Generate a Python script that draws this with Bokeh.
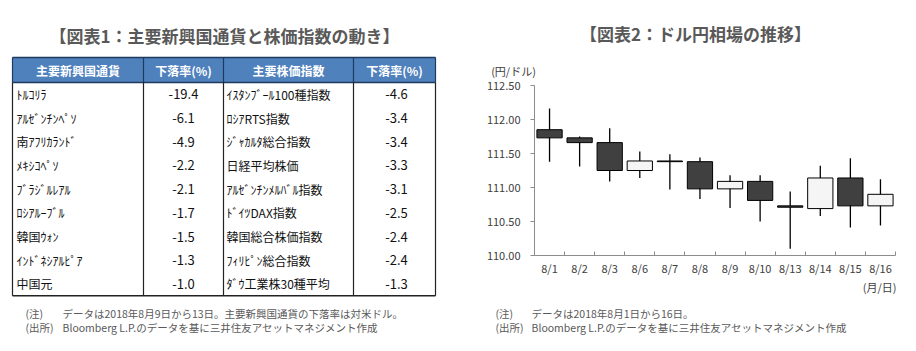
from bokeh.plotting import figure
from bokeh.models import Range1d, ColumnDataSource, FixedTicker, NumeralTickFormatter
from bokeh.layouts import row, column
from bokeh.embed import file_html
from bokeh.resources import INLINE
from bokeh.core.properties import value

FONT = "Noto Sans CJK JP"

# ---------------- data ----------------
title1 = "【図表1：主要新興国通貨と株価指数の動き】"
title2 = "【図表2：ドル円相場の推移】"
headers = ["主要新興国通貨", "下落率(%)", "主要株価指数", "下落率(%)"]
currencies = ["ﾄﾙｺﾘﾗ", "ｱﾙｾﾞﾝﾁﾝﾍﾟｿ", "南ｱﾌﾘｶﾗﾝﾄﾞ", "ﾒｷｼｺﾍﾟｿ", "ﾌﾞﾗｼﾞﾙﾚｱﾙ",
              "ﾛｼｱﾙｰﾌﾞﾙ", "韓国ｳｫﾝ", "ｲﾝﾄﾞﾈｼｱﾙﾋﾟｱ", "中国元"]
currency_chg = [-19.4, -6.1, -4.9, -2.2, -2.1, -1.7, -1.5, -1.3, -1.0]
indices = ["ｲｽﾀﾝﾌﾞｰﾙ100種指数", "ﾛｼｱRTS指数", "ｼﾞｬｶﾙﾀ総合指数", "日経平均株価",
           "ｱﾙｾﾞﾝﾁﾝﾒﾙﾊﾞﾙ指数", "ﾄﾞｲﾂDAX指数", "韓国総合株価指数", "ﾌｨﾘﾋﾟﾝ総合指数",
           "ﾀﾞｳ工業株30種平均"]
index_chg = [-4.6, -3.4, -3.4, -3.3, -3.1, -2.5, -2.4, -2.4, -1.3]
note1_label = ["(注)", "(出所)"]
note1_text = ["データは2018年8月9日から13日。主要新興国通貨の下落率は対米ドル。",
              "Bloomberg L.P.のデータを基に三井住友アセットマネジメント作成"]

dates = ["8/1", "8/2", "8/3", "8/6", "8/7", "8/8", "8/9", "8/10", "8/13", "8/14", "8/15", "8/16"]
opens = [111.85, 111.73, 111.66, 111.25, 111.39, 111.38, 110.98, 111.09, 110.73, 110.69, 111.14, 110.73]
closes = [111.73, 111.66, 111.25, 111.39, 111.38, 110.98, 111.09, 110.81, 110.71, 111.14, 110.73, 110.90]
highs = [112.16, 111.75, 111.87, 111.53, 111.49, 111.44, 111.18, 111.18, 110.94, 111.32, 111.43, 111.12]
lows = [111.38, 111.31, 111.09, 111.14, 110.97, 110.83, 110.70, 110.50, 110.10, 110.58, 110.41, 110.44]
y_ticks = [110.0, 110.5, 111.0, 111.5, 112.0, 112.5]
y_unit = "(円/ドル)"
x_unit = "(月/日)"
note2_label = ["(注)", "(出所)"]
note2_text = ["データは2018年8月1日から16日。",
              "Bloomberg L.P.のデータを基に三井住友アセットマネジメント作成"]


def pixel_fig(w, h):
    """A blank figure whose data space equals its own pixels (y downwards)."""
    f = figure(width=w, height=h, x_range=Range1d(0, w), y_range=Range1d(h, 0),
               output_backend="svg", toolbar_location=None, min_border=0,
               x_axis_type=None, y_axis_type=None, outline_line_color=None, title=None)
    f.grid.visible = False
    f.background_fill_color = "white"
    f.border_fill_color = "white"
    f.frame_align = False
    return f


def txt(f, x, y, t, size, color="#111111", bold=False, align="left"):
    f.text(x=x, y=y, text=t, text_font=value(FONT), text_font_size=size,
           text_font_style="bold" if bold else "normal", text_color=color,
           text_align=align, text_baseline="middle")


# ---------------- left: table ----------------
p1 = pixel_fig(458, 351)

col_edges = [12, 143, 223, 353, 435]
head_top, head_bot, row_h = 57, 82, 23.7
n = len(currencies)
tab_bot = head_bot + n * row_h

txt(p1, [224], [35], [title1], "17px", "#595959", bold=True, align="center")

p1.quad(left=[col_edges[0]], right=[col_edges[-1]], top=[head_top], bottom=[head_bot],
        fill_color="#4F81BD", line_color=None)
p1.segment(x0=[col_edges[0]] * 2, y0=[head_top, head_bot], x1=[col_edges[-1]] * 2,
           y1=[head_top, head_bot], line_color="#1F3A5F", line_width=1.3)
p1.segment(x0=col_edges, y0=[head_top] * 5, x1=col_edges, y1=[head_bot] * 5,
           line_color="#1F3A5F", line_width=1.2)
p1.segment(x0=col_edges, y0=[head_bot] * 5, x1=col_edges, y1=[tab_bot] * 5,
           line_color="#222222", line_width=1.2)
p1.segment(x0=[col_edges[0]], y0=[tab_bot], x1=[col_edges[-1]], y1=[tab_bot],
           line_color="#222222", line_width=1.5)

hx = [(col_edges[i] + col_edges[i + 1]) / 2 for i in range(4)]
txt(p1, hx, [(head_top + head_bot) / 2] * 4, headers, "12px", "white", bold=True, align="center")

ry = [head_bot + (i + 0.5) * row_h for i in range(n)]
txt(p1, [col_edges[0] + 4] * n, ry, currencies, "12px")
txt(p1, [col_edges[2] + 3] * n, ry, indices, "12px")
txt(p1, [hx[1]] * n, ry, [f"{v:.1f}" for v in currency_chg], "13px", align="center")
txt(p1, [hx[3] + 2] * n, ry, [f"{v:.1f}" for v in index_chg], "13px", align="center")

txt(p1, [25, 25], [313, 327], note1_label, "10.5px", "#595959")
txt(p1, [62, 62], [313, 327], note1_text, "10.5px", "#595959")

# ---------------- right: title strip ----------------
TOP_H, CHART_H = 78, 201
pt = pixel_fig(458, TOP_H)
txt(pt, [237], [33], [title2], "17px", "#595959", bold=True, align="center")
txt(pt, [55], [70], [y_unit], "11px", "#404040", align="center")

# ---------------- right: candlestick ----------------
p2 = figure(width=458, height=CHART_H, x_range=Range1d(0.5, len(dates) + 0.5),
            y_range=Range1d(y_ticks[0], y_ticks[-1]),
            output_backend="svg", toolbar_location=None, title=None,
            min_border_left=76, min_border_right=21, min_border_top=7, min_border_bottom=24,
            outline_line_color=None)
p2.grid.visible = False
p2.background_fill_color = "white"
p2.border_fill_color = "white"
p2.frame_align = False

xs = list(range(1, len(dates) + 1))
src = ColumnDataSource(dict(
    x=xs, high=highs, low=lows,
    top=[max(o, c) for o, c in zip(opens, closes)],
    bottom=[min(o, c) for o, c in zip(opens, closes)],
    color=["#F5F5F5" if c > o else "#404040" for o, c in zip(opens, closes)],
))
p2.segment(x0="x", y0="low", x1="x", y1="high", source=src, line_color="black", line_width=1.3)
p2.vbar(x="x", width=0.84, top="top", bottom="bottom", fill_color="color",
        line_color="black", line_width=1, source=src)

AX = "#8C8C8C"
p2.yaxis.ticker = FixedTicker(ticks=y_ticks)
p2.yaxis.formatter = NumeralTickFormatter(format="0.00")
p2.yaxis.minor_tick_line_color = None
p2.yaxis.minor_tick_out = 0
p2.yaxis.major_tick_out = 4
p2.yaxis.major_tick_in = 0
p2.yaxis.major_label_standoff = 10
for ax in (p2.xaxis, p2.yaxis):
    ax.axis_line_color = AX
    ax.major_tick_line_color = AX
    ax.major_label_text_font = FONT
    ax.major_label_text_font_size = "11px"
    ax.major_label_text_color = "#404040"

p2.xaxis.ticker = FixedTicker(ticks=xs, minor_ticks=[i + 0.5 for i in range(len(dates) + 1)])
p2.xaxis.major_label_overrides = {x: d for x, d in zip(xs, dates)}
p2.xaxis.major_tick_line_color = None
p2.xaxis.major_tick_out = 0
p2.xaxis.major_tick_in = 0
p2.xaxis.minor_tick_line_color = AX
p2.xaxis.minor_tick_in = 4
p2.xaxis.minor_tick_out = 0
p2.xaxis.major_label_standoff = 4

# ---------------- right: unit + notes strip ----------------
BOT_H = 351 - TOP_H - CHART_H
pb = pixel_fig(458, BOT_H)
y0 = TOP_H + CHART_H
txt(pb, [438], [286 - y0], [x_unit], "11px", "#404040", align="right")
txt(pb, [37, 37], [313 - y0, 327 - y0], note2_label, "10.5px", "#595959")
txt(pb, [73, 73], [313 - y0, 327 - y0], note2_text, "10.5px", "#595959")

layout = row(p1, column(pt, p2, pb, spacing=0), spacing=0)
open("out.html", "w").write(file_html(layout, INLINE))
